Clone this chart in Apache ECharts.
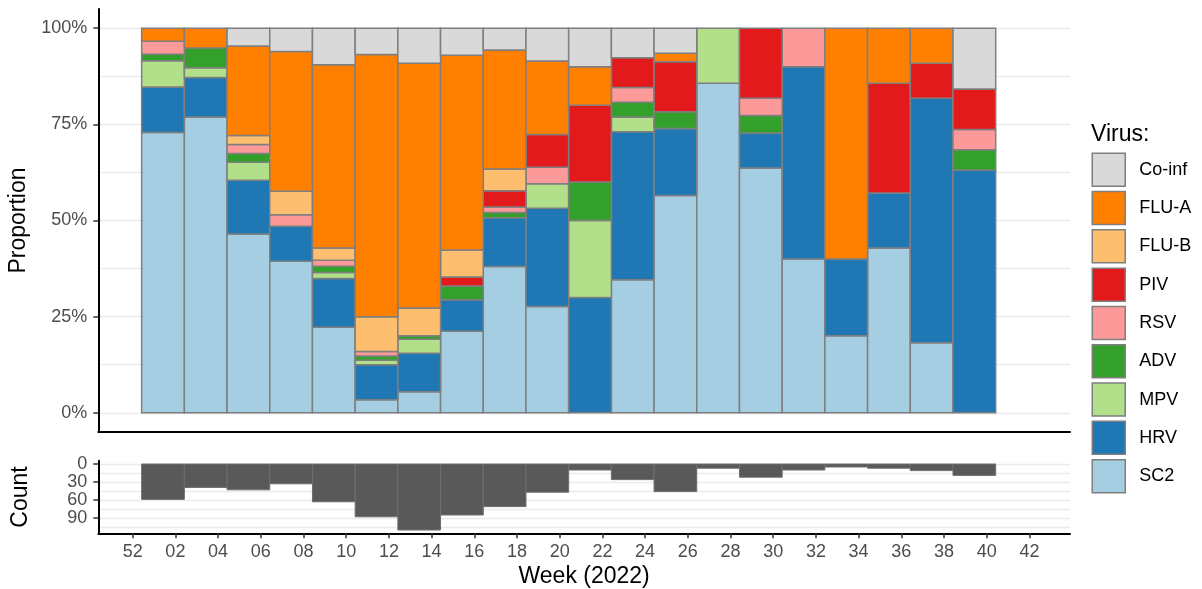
<!DOCTYPE html>
<html>
<head>
<meta charset="utf-8">
<script src="https://cdn.jsdelivr.net/npm/echarts@6.0.0/dist/echarts.min.js"></script>
<style>
html,body{margin:0;padding:0;background:#fff;}
#chart{width:1202px;height:589px;}
</style>
</head>
<body>
<div id="chart"></div>
<script>
// ---------- DATA ----------
// 2-week bins: start of each bin in weeks after ISO week 52 of 2021 (bin width = 2 weeks)
const binStart = [0.42, 2.42, 4.42, 6.42, 8.42, 10.42, 12.42, 14.42, 16.42, 18.42,
                  20.42, 22.42, 24.42, 26.42, 28.42, 30.42, 32.42, 34.42, 36.42, 38.42];
const binWidth = 2;

// detections per virus in each bin
const SC2   = [43, 30, 20, 13, 14,  3,  6, 18, 27, 13, 0,  9, 26, 6, 14, 4, 1, 3, 2,  0];
const HRV   = [ 7,  4,  6,  3,  8,  8, 11,  7,  9, 12, 3, 10,  8, 0,  2, 5, 1, 1, 7, 12];
const MPV   = [ 4,  1,  2,  0,  1,  1,  4,  0,  0,  3, 2,  1,  0, 1,  0, 0, 0, 0, 0,  0];
const ADV   = [ 1,  2,  1,  0,  1,  1,  1,  3,  1,  0, 1,  1,  2, 0,  1, 0, 0, 0, 0,  1];
const RSV   = [ 2,  0,  1,  1,  1,  1,  0,  0,  1,  2, 0,  1,  0, 0,  1, 1, 0, 0, 0,  1];
const PIV   = [ 0,  0,  0,  0,  0,  0,  0,  2,  3,  4, 2,  2,  6, 0,  4, 0, 0, 2, 1,  2];
const FLUB  = [ 0,  0,  1,  2,  2,  8,  8,  6,  4,  0, 0,  0,  0, 0,  0, 0, 0, 0, 0,  0];
const FLUA  = [ 2,  2, 10, 12, 30, 60, 70, 43, 22,  9, 1,  0,  1, 0,  0, 0, 3, 1, 1,  0];
const COINF = [ 0,  0,  2,  2,  6,  6, 10,  6,  4,  4, 1,  2,  3, 0,  0, 0, 0, 0, 0,  3];

// stacking order, bottom to top
const virusNames = ['SC2', 'HRV', 'MPV', 'ADV', 'RSV', 'PIV', 'FLU-B', 'FLU-A', 'Co-inf'];
const virusCounts = [SC2, HRV, MPV, ADV, RSV, PIV, FLUB, FLUA, COINF];
// legend order, top to bottom
const legendOrder = ['Co-inf', 'FLU-A', 'FLU-B', 'PIV', 'RSV', 'ADV', 'MPV', 'HRV', 'SC2'];

// axis ticks
const weekTicks = [0, 2, 4, 6, 8, 10, 12, 14, 16, 18, 20, 22, 24, 26, 28, 30, 32, 34, 36, 38, 40, 42];
const weekTickLabels = ['52', '02', '04', '06', '08', '10', '12', '14', '16', '18', '20',
                        '22', '24', '26', '28', '30', '32', '34', '36', '38', '40', '42'];
const propTicks = [0, 0.25, 0.5, 0.75, 1];
const propTickLabels = ['0%', '25%', '50%', '75%', '100%'];
const propGrid = [0, 0.125, 0.25, 0.375, 0.5, 0.625, 0.75, 0.875, 1];
const countTicks = [0, 30, 60, 90];
const countGrid = [0, 15, 30, 45, 60, 75, 90, 105];

// ---------- STYLE ----------
const virusColors = {
  'SC2': '#A6CEE3', 'HRV': '#1F78B4', 'MPV': '#B2DF8A', 'ADV': '#33A02C', 'RSV': '#FB9A99',
  'PIV': '#E31A1C', 'FLU-B': '#FDBF6F', 'FLU-A': '#FF7F00', 'Co-inf': '#D9D9D9'
};
const FONT = '"Liberation Sans", Arial, Helvetica, sans-serif';
const X_MIN = -1.61, X_MAX = 43.9;

// ---------- BUILD ----------
const totals = binStart.map((_, i) => virusCounts.reduce((s, arr) => s + arr[i], 0));
const cum = binStart.map(() => 0);
const propSeries = virusNames.map((name, k) => {
  const data = [];
  binStart.forEach((x, i) => {
    const c = virusCounts[k][i];
    if (c > 0) {
      const y0 = cum[i] / totals[i];
      const y1 = (cum[i] + c) / totals[i];
      data.push([x, x + binWidth, y0, y1]);
    }
    cum[i] += c;
  });
  return {
    type: 'custom', name: name, xAxisIndex: 0, yAxisIndex: 0,
    itemStyle: { color: virusColors[name] },
    encode: { x: [0, 1], y: [2, 3] },
    renderItem: function (params, api) {
      const a = api.coord([api.value(0), api.value(3)]);
      const b = api.coord([api.value(1), api.value(2)]);
      return {
        type: 'rect',
        shape: { x: a[0], y: a[1], width: b[0] - a[0], height: b[1] - a[1] },
        style: { fill: api.visual('color'), stroke: '#7F7F7F', lineWidth: 1.5 }
      };
    },
    data: data
  };
});

const countSeries = {
  type: 'custom', xAxisIndex: 1, yAxisIndex: 1,
  encode: { x: [0, 1], y: 2 },
  renderItem: function (params, api) {
    const a = api.coord([api.value(0), 0]);
    const b = api.coord([api.value(1), api.value(2)]);
    return {
      type: 'rect',
      shape: { x: a[0], y: Math.min(a[1], b[1]), width: b[0] - a[0], height: Math.abs(b[1] - a[1]) },
      style: { fill: '#595959', stroke: '#6E6E6E', lineWidth: 1 }
    };
  },
  data: binStart.map((x, i) => [x, x + binWidth, totals[i]])
};

const gridLine = { show: true, lineStyle: { color: '#EBEBEB', width: 1.3 } };
const axisLineBlack = { show: true, onZero: false, lineStyle: { color: '#000', width: 2 } };
const hiddenLine = { show: false, onZero: false };
const labelStyle = { fontSize: 18, color: '#4D4D4D', fontFamily: FONT };
const tickStyle = { show: true, length: 5, lineStyle: { color: '#333', width: 1.5 } };

const option = {
  animation: false,
  backgroundColor: '#fff',
  textStyle: { fontFamily: FONT },
  title: {
    text: 'Virus:', left: 1091, top: 123, padding: 0,
    textStyle: { fontSize: 23, fontWeight: 'normal', color: '#000', fontFamily: FONT }
  },
  legend: {
    data: legendOrder, orient: 'vertical', left: 1091.5, top: 152.5, padding: 0,
    itemWidth: 33, itemHeight: 33, itemGap: 3.8, icon: 'rect', selectedMode: false,
    itemStyle: { borderColor: '#7F7F7F', borderWidth: 1.5 },
    textStyle: { fontSize: 18, color: '#000', fontFamily: FONT, padding: [0, 0, 0, 9] }
  },
  grid: [
    { left: 98.3, right: 132, top: 9, height: 423, containLabel: false, outerBoundsMode: 'none' },
    { left: 98.3, right: 132, top: 460.7, height: 72.6, containLabel: false, outerBoundsMode: 'none' }
  ],
  xAxis: [
    { type: 'value', gridIndex: 0, min: X_MIN, max: X_MAX, axisLine: axisLineBlack,
      axisTick: { show: false }, axisLabel: { show: false }, splitLine: { show: false } },
    { type: 'value', gridIndex: 1, min: X_MIN, max: X_MAX, axisLine: axisLineBlack,
      axisTick: Object.assign({ customValues: weekTicks }, tickStyle),
      axisLabel: Object.assign({ customValues: weekTicks, margin: 10,
        formatter: v => weekTickLabels[weekTicks.indexOf(Math.round(v))] }, labelStyle),
      splitLine: { show: false },
      name: 'Week (2022)', nameLocation: 'middle', nameGap: 32,
      nameTextStyle: { fontSize: 23, color: '#000', fontFamily: FONT } }
  ],
  yAxis: [
    // visible axes (left)
    { type: 'value', gridIndex: 0, min: -0.05, max: 1.05, position: 'left', axisLine: axisLineBlack,
      axisTick: Object.assign({ customValues: propTicks }, tickStyle),
      axisLabel: Object.assign({ customValues: propTicks, margin: 11,
        formatter: v => propTickLabels[propTicks.indexOf(Math.round(v * 100) / 100)] }, labelStyle),
      splitLine: { show: false },
      name: 'Proportion', nameLocation: 'middle', nameGap: 66,
      nameTextStyle: { fontSize: 23, color: '#000', fontFamily: FONT } },
    { type: 'value', gridIndex: 1, min: -5.5, max: 115.5, inverse: true, position: 'left', axisLine: axisLineBlack,
      axisTick: Object.assign({ customValues: countTicks }, tickStyle),
      axisLabel: Object.assign({ customValues: countTicks, margin: 11 }, labelStyle),
      splitLine: { show: false },
      name: 'Count', nameLocation: 'middle', nameGap: 66,
      nameTextStyle: { fontSize: 23, color: '#000', fontFamily: FONT } },
    // helper axes only for the major + minor grid lines
    { type: 'value', gridIndex: 0, min: -0.05, max: 1.05, position: 'right', axisLine: hiddenLine,
      axisTick: { show: false, customValues: propGrid },
      axisLabel: { show: false }, splitLine: gridLine },
    { type: 'value', gridIndex: 1, min: -5.5, max: 115.5, inverse: true, position: 'right', axisLine: hiddenLine,
      axisTick: { show: false, customValues: countGrid },
      axisLabel: { show: false }, splitLine: gridLine }
  ],
  series: propSeries.concat([countSeries])
};

const chart = echarts.init(document.getElementById('chart'), null, { renderer: 'canvas' });
chart.setOption(option);
</script>
</body>
</html>
